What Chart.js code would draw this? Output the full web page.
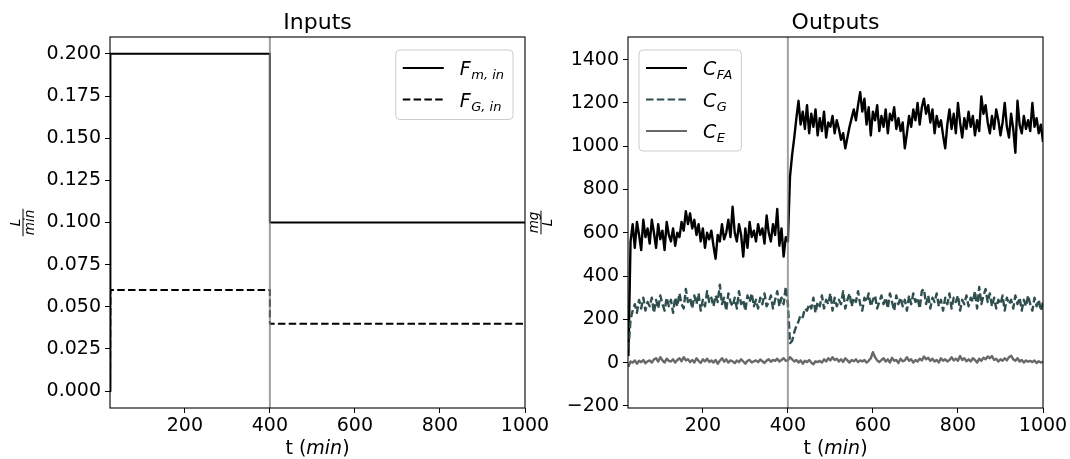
<!DOCTYPE html>
<html>
<head>
<meta charset="utf-8">
<script src="https://cdn.jsdelivr.net/npm/chart.js@4.4.0/dist/chart.umd.min.js"></script>
<style>
body{margin:0;background:#fff;}
#wrap{position:relative;width:1070px;height:459px;overflow:hidden;}
canvas{position:absolute;top:0;}
#cIn{left:0;}
#cOut{left:510px;}
</style>
</head>
<body>
<div id="wrap">
<canvas id="cIn" width="560" height="459"></canvas>
<canvas id="cOut" width="560" height="459"></canvas>
</div>
<script>
// ---- data ----
var STEP_TIME = 400;
var X_MIN = 24, X_MAX = 1000;
var xTicks = [200, 400, 600, 800, 1000];

// inputs (step profiles)
var inTime = [24, 25, 400, 400, 1000];
var fmIn = [0, 0.2, 0.2, 0.1, 0.1];
var fgIn = [0, 0.06, 0.06, 0.04, 0.04];
var inYTicks = [0, 0.025, 0.05, 0.075, 0.1, 0.125, 0.15, 0.175, 0.2];

var outTime = [
  25,30,35,40,45,50,55,60,65,70,
  75,80,85,90,95,100,105,110,115,120,
  125,130,135,140,145,150,155,160,165,170,
  175,180,185,190,195,200,205,210,215,220,
  225,230,235,240,245,250,255,260,265,270,
  275,280,285,290,295,300,305,310,315,320,
  325,330,335,340,345,350,355,360,365,370,
  375,380,385,390,395,400,405,410,415,420,
  425,430,435,440,445,450,455,460,465,470,
  475,480,485,490,495,500,505,510,515,520,
  525,530,535,540,545,550,555,560,565,570,
  575,580,585,590,595,600,605,610,615,620,
  625,630,635,640,645,650,655,660,665,670,
  675,680,685,690,695,700,705,710,715,720,
  725,730,735,740,745,750,755,760,765,770,
  775,780,785,790,795,800,805,810,815,820,
  825,830,835,840,845,850,855,860,865,870,
  875,880,885,890,895,900,905,910,915,920,
  925,930,935,940,945,950,955,960,965,970,
  975,980,985,990,995,1000
];
var cFA = [
  30,560,640,530,650,590,520,660,580,620,
  550,660,600,530,640,570,610,520,650,590,
  560,620,540,600,580,650,610,700,640,690,
  620,660,590,640,560,620,530,600,570,610,
  540,480,590,560,640,570,600,660,580,720,
  600,560,640,590,490,620,530,650,580,610,
  560,640,590,620,550,680,600,560,640,590,
  710,540,620,490,580,560,860,960,1040,1130,
  1210,1100,1160,1080,1190,1060,1150,1090,1170,1050,
  1130,1070,1160,1040,1110,1090,1140,1060,1120,1080,
  1030,1060,990,1040,1090,1130,1170,1120,1190,1250,
  1160,1220,1100,1180,1050,1160,1120,1190,1070,1140,
  1090,1170,1060,1150,1120,1180,1080,1130,1070,1110,
  990,1060,1140,1090,1170,1120,1200,1100,1180,1220,
  1150,1190,1110,1170,1060,1140,1090,1120,1050,990,
  1100,1170,1080,1150,1060,1200,1110,1040,1130,1080,
  1160,1090,1140,1050,1120,1070,1230,1150,1190,1110,
  1060,1140,1080,1170,1120,1050,1110,1200,1090,1040,
  1150,1080,970,1210,1100,1060,1140,1080,1120,1070,
  1200,1090,1130,1060,1100,1020
];
var cG = [
  60,200,240,270,230,290,250,300,240,280,
  260,300,230,290,250,310,270,240,300,260,
  290,230,300,260,320,270,250,340,280,300,
  250,310,270,320,240,290,260,330,280,300,
  260,310,280,360,270,300,240,320,280,260,
  300,250,330,270,290,240,310,280,320,260,
  290,250,300,270,320,260,280,310,250,290,
  330,260,300,270,350,270,90,100,140,170,
  190,220,210,250,240,270,250,300,230,280,
  260,310,250,290,270,320,240,300,260,290,
  270,330,250,290,320,260,300,280,330,270,
  240,300,280,320,260,290,310,250,280,310,
  270,300,250,320,280,240,310,270,300,260,
  290,240,310,270,320,280,300,250,330,340,
  270,310,250,300,280,320,260,290,240,300,
  270,320,250,300,280,310,240,290,270,310,
  260,300,280,330,250,350,270,310,340,280,
  320,260,300,250,290,270,310,240,300,270,
  290,250,310,270,300,240,290,260,310,270,
  240,300,260,290,240,280
];
var cE = [
  -20,5,0,10,-5,8,2,12,-3,6,
  10,0,15,20,5,25,10,0,18,8,
  5,15,0,12,20,6,25,10,15,2,
  12,0,20,8,-2,15,5,18,3,10,
  0,12,-5,8,20,4,15,0,10,6,
  -3,10,2,15,5,-5,8,12,0,6,
  10,2,14,6,-2,9,15,4,12,8,
  18,5,12,20,8,10,25,15,5,12,
  0,10,-5,8,2,12,0,-8,6,2,
  8,0,15,5,20,10,25,12,18,5,
  15,3,20,10,0,12,6,15,2,10,
  5,12,0,8,20,48,25,10,2,12,
  20,5,15,0,22,8,12,-2,18,6,
  10,25,8,15,0,12,5,18,10,28,
  15,22,8,18,5,12,0,20,8,15,
  5,12,25,10,18,8,30,12,20,6,
  15,5,20,12,0,18,8,22,15,28,
  20,30,12,18,5,15,8,20,10,25,
  32,15,8,20,5,12,0,10,4,8,
  2,10,-2,6,0,4
];
var outYTicks = [-200, 0, 200, 400, 600, 800, 1000, 1200, 1400];

// ---- drawing helpers ----
var FONT = '"DejaVu Sans", sans-serif';
var DASH = [7.5, 3.3];

function toPoints(xs, ys){
  var out = [];
  for(var i=0;i<xs.length;i++) out.push({x:xs[i], y:ys[i]});
  return out;
}

// base letter with italic subscript, like mathtext C_{FA}
function mathText(ctx, x, y, base, sub, size){
  ctx.font = 'italic ' + size + 'px ' + FONT;
  ctx.fillText(base, x, y);
  var w = ctx.measureText(base).width;
  var s = Math.round(size*0.7);
  ctx.font = 'italic ' + s + 'px ' + FONT;
  ctx.fillText(sub, x + w + 0.5, y + size*0.22);
  return w + 0.5 + ctx.measureText(sub).width;
}
function mathWidth(ctx, base, sub, size){
  ctx.font = 'italic ' + size + 'px ' + FONT;
  var w = ctx.measureText(base).width;
  ctx.font = 'italic ' + Math.round(size*0.7) + 'px ' + FONT;
  return w + 0.5 + ctx.measureText(sub).width;
}

var deco = {
  id:'deco',
  afterDraw:function(chart, args, o){
    var ctx = chart.ctx, a = chart.chartArea, xs = chart.scales.x;
    ctx.save();
    // step marker
    var px = xs.getPixelForValue(STEP_TIME);
    ctx.strokeStyle = 'rgba(128,128,128,0.75)';
    ctx.lineWidth = 2;
    ctx.beginPath(); ctx.moveTo(px, a.top); ctx.lineTo(px, a.bottom); ctx.stroke();
    // frame
    ctx.strokeStyle = '#000';
    ctx.lineWidth = 1.1;
    ctx.strokeRect(a.left, a.top, a.right - a.left, a.bottom - a.top);

    ctx.fillStyle = '#000';
    ctx.textBaseline = 'alphabetic';
    // title
    ctx.font = '22px ' + FONT;
    ctx.textAlign = 'center';
    ctx.fillText(o.title, (a.left + a.right)/2, a.top - 8);

    // x label: t (min)
    ctx.textAlign = 'left';
    var fs = 19;
    ctx.font = fs + 'px ' + FONT;
    var w1 = ctx.measureText('t (').width, w3 = ctx.measureText(')').width;
    ctx.font = 'italic ' + fs + 'px ' + FONT;
    var w2 = ctx.measureText('min').width;
    var sx = (a.left + a.right)/2 - (w1 + w2 + w3)/2, by = 454;
    ctx.font = fs + 'px ' + FONT;
    ctx.fillText('t (', sx, by);
    ctx.font = 'italic ' + fs + 'px ' + FONT;
    ctx.fillText('min', sx + w1, by);
    ctx.font = fs + 'px ' + FONT;
    ctx.fillText(')', sx + w1 + w2, by);

    // y label as a fraction, rotated
    ctx.save();
    ctx.translate(a.left - 87, (a.top + a.bottom)/2);
    ctx.rotate(-Math.PI/2);
    ctx.font = 'italic 13.5px ' + FONT;
    ctx.textAlign = 'center';
    var fw = Math.max(ctx.measureText(o.yNum).width, ctx.measureText(o.yDen).width) + 2;
    ctx.fillText(o.yNum, 0, -3);
    ctx.fillText(o.yDen, 0, 11);
    ctx.lineWidth = 1;
    ctx.beginPath(); ctx.moveTo(-fw/2, 0); ctx.lineTo(fw/2, 0); ctx.stroke();
    ctx.restore();

    // legend box
    var items = o.legend, n = items.length, mw = 0;
    for(var i=0;i<n;i++) mw = Math.max(mw, mathWidth(ctx, items[i].base, items[i].sub, fs));
    var bw = 64 + mw + 9, bh = 18 + (n-1)*31.5 + 20;
    var bx = o.legendRight ? a.right - 12 - bw : a.left + 11, byy = a.top + 13;
    ctx.beginPath();
    ctx.roundRect(bx, byy, bw, bh, 4);
    ctx.fillStyle = 'rgba(255,255,255,0.8)';
    ctx.fill();
    ctx.strokeStyle = '#cccccc';
    ctx.lineWidth = 1;
    ctx.stroke();
    ctx.textAlign = 'left';
    for(var j=0;j<n;j++){
      var it = items[j], ry = byy + 18 + j*31.5;
      ctx.strokeStyle = it.color;
      ctx.lineWidth = 2;
      ctx.setLineDash(it.dash || []);
      ctx.beginPath(); ctx.moveTo(bx + 7, ry); ctx.lineTo(bx + 48, ry); ctx.stroke();
      ctx.setLineDash([]);
      ctx.fillStyle = '#000';
      mathText(ctx, bx + 64, ry + 7, it.base, it.sub, fs);
    }
    ctx.restore();
  }
};

function makeChart(id, datasets, yMin, yMax, yTicks, yFmt, yWidth, padRight, decoOpts){
  var tickFont = {family:FONT, size:19};
  return new Chart(document.getElementById(id), {
    type:'line',
    data:{datasets:datasets},
    plugins:[deco],
    options:{
      responsive:false,
      animation:false,
      layout:{padding:{top:37, right:padRight, bottom:0, left:0}},
      elements:{point:{radius:0}, line:{tension:0, borderJoinStyle:'round'}},
      plugins:{legend:{display:false}, tooltip:{enabled:false}, deco:decoOpts},
      scales:{
        x:{
          type:'linear', min:X_MIN, max:X_MAX,
          afterBuildTicks:function(s){ s.ticks = xTicks.map(function(v){ return {value:v}; }); },
          afterFit:function(s){ s.height = 51; },
          ticks:{font:tickFont, color:'#000', padding:2, maxRotation:0, autoSkip:false,
                 callback:function(v){ return String(v); }},
          grid:{drawOnChartArea:false, color:'#000', tickLength:5, lineWidth:1},
          border:{display:false}
        },
        y:{
          type:'linear', min:yMin, max:yMax,
          afterBuildTicks:function(s){ s.ticks = yTicks.map(function(v){ return {value:v}; }); },
          afterFit:function(s){ s.width = yWidth; },
          ticks:{font:tickFont, color:'#000', padding:4, autoSkip:false, callback:yFmt},
          grid:{drawOnChartArea:false, color:'#000', tickLength:5, lineWidth:1},
          border:{display:false}
        }
      }
    }
  });
}

makeChart('cIn', [
  {data:toPoints(inTime, fmIn), borderColor:'#000', borderWidth:2, fill:false},
  {data:toPoints(inTime, fgIn), borderColor:'#000', borderWidth:2, borderDash:DASH, fill:false}
], -0.01, 0.21, inYTicks, function(v){ return Number(v).toFixed(3); }, 110, 35, {
  title:'Inputs', yNum:'L', yDen:'min', legendRight:true,
  legend:[
    {base:'F', sub:'m, in', color:'#000'},
    {base:'F', sub:'G, in', color:'#000', dash:DASH}
  ]
});

makeChart('cOut', [
  {data:toPoints(outTime, cFA), borderColor:'#000', borderWidth:2.4, fill:false, order:3},
  {data:toPoints(outTime, cG), borderColor:'#2f4f4f', borderWidth:2.4, borderDash:DASH, fill:false, order:2},
  {data:toPoints(outTime, cE), borderColor:'#696969', borderWidth:2.4, fill:false, order:1}
], -210, 1505, outYTicks, function(v){ return v < 0 ? '\u2212' + Math.abs(v) : String(v); }, 118, 27, {
  title:'Outputs', yNum:'mg', yDen:'L', legendRight:false,
  legend:[
    {base:'C', sub:'FA', color:'#000'},
    {base:'C', sub:'G', color:'#2f4f4f', dash:DASH},
    {base:'C', sub:'E', color:'#696969'}
  ]
});
</script>
</body>
</html>
